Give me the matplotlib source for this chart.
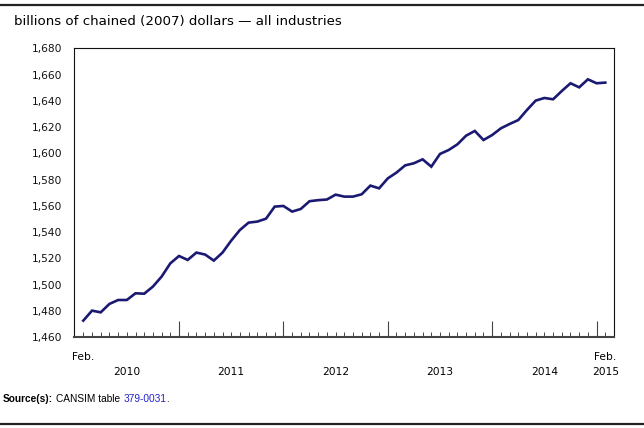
import numpy as np
import matplotlib
matplotlib.use("Agg")
import matplotlib.pyplot as plt
from matplotlib.ticker import FixedLocator, FuncFormatter

# monthly real GDP, Feb 2010 .. Feb 2015 (billions of chained 2007 dollars)
gdp = [
    1472.7, 1480.3, 1479.0, 1485.4, 1488.4, 1488.4, 1493.5, 1493.2, 1498.6, 1506.2, 1516.3,   # 2010 Feb-Dec
    1521.9, 1518.9, 1524.5, 1523.0, 1518.4, 1524.5, 1533.6, 1541.7, 1547.3, 1548.1, 1550.3, 1559.5,  # 2011
    1560.0, 1555.7, 1557.7, 1563.6, 1564.4, 1564.9, 1568.6, 1567.1, 1567.1, 1568.9, 1575.5, 1573.4,  # 2012
    1581.0, 1585.4, 1590.9, 1592.5, 1595.5, 1589.9, 1599.6, 1602.6, 1606.9, 1613.5, 1617.1, 1610.2,  # 2013
    1614.0, 1619.1, 1622.4, 1625.4, 1633.1, 1640.2, 1642.2, 1641.2, 1647.5, 1653.4, 1650.3, 1656.4,  # 2014
    1653.4, 1653.9,  # 2015 Jan-Feb
]
years = ["2010", "2011", "2012", "2013", "2014", "2015"]
y_ticks = list(range(1460, 1681, 20))

months = np.arange(len(gdp))
jan_idx = [11, 23, 35, 47, 59]
minor_idx = [i for i in months if i not in jan_idx]

fig = plt.figure(figsize=(6.44, 4.28), dpi=100)
ax = fig.add_axes([0.1149, 0.2119, 0.8385, 0.6752])

ax.plot(months, gdp, color="#1b1a72", linewidth=1.9, solid_joinstyle="miter")

xmin, xmax = -1.07, 61.0
ax.set_xlim(xmin, xmax)
ax.set_ylim(1460, 1680)

ax.yaxis.set_major_locator(FixedLocator(y_ticks))
ax.yaxis.set_major_formatter(FuncFormatter(lambda v, p: f"{int(v):,}"))
ax.tick_params(axis="y", length=0, pad=8.4, labelsize=7.7, labelcolor="#111111")

ax.xaxis.set_major_locator(FixedLocator(jan_idx))
ax.xaxis.set_minor_locator(FixedLocator(minor_idx))
ax.tick_params(axis="x", which="major", direction="in", length=11.5, width=0.8,
               color="#444444", labelbottom=False)
ax.tick_params(axis="x", which="minor", direction="in", length=3.8, width=0.7,
               color="#444444")

for s in ["top", "right", "left"]:
    ax.spines[s].set_linewidth(0.8)
    ax.spines[s].set_color("#111111")
ax.spines["bottom"].set_linewidth(1.5)
ax.spines["bottom"].set_color("#444444")

# year labels centred between January ticks
bounds = [xmin] + jan_idx
trans = ax.get_xaxis_transform()
for k, yr in enumerate(years[:-1]):
    xc = (bounds[k] + bounds[k + 1]) / 2
    ax.text(xc, -0.121, yr, transform=trans, ha="center", va="center", fontsize=7.7)
ax.text(months[-1], -0.121, years[-1], transform=trans, ha="center", va="center", fontsize=7.7)
ax.text(months[0], -0.067, "Feb.", transform=trans, ha="center", va="center", fontsize=7.7)
ax.text(months[-1], -0.067, "Feb.", transform=trans, ha="center", va="center", fontsize=7.7)

fig.text(13.5 / 644, 1 - 21.5 / 428, "billions of chained (2007) dollars \u2014 all industries",
         ha="left", va="center", fontsize=9.6)

# source note, pieces laid out one after another
src_y = 1 - 399 / 428
fs = 7.3
fig.canvas.draw()
rend = fig.canvas.get_renderer()
x = 3.0
pieces = [("Source(s):", "bold", "black", 3.0),
          ("CANSIM table", "normal", "black", 3.0),
          ("379-0031", "normal", "#2222cc", 0.0),
          (".", "normal", "black", 0.0)]
for txt, wt, col, gap in pieces:
    t = fig.text(x / 644, src_y, txt, ha="left", va="center", fontsize=fs,
                 fontweight=wt, color=col, family="Liberation Sans")
    x = t.get_window_extent(rend).x1 + gap

# page rules above and below
fig.add_artist(plt.Line2D([0, 1], [1 - 4.5 / 428, 1 - 4.5 / 428], transform=fig.transFigure,
                          color="#222222", linewidth=1.6))
fig.add_artist(plt.Line2D([0, 1], [1 - 424 / 428, 1 - 424 / 428], transform=fig.transFigure,
                          color="#222222", linewidth=1.6))

fig.savefig("out.png", dpi=100)
